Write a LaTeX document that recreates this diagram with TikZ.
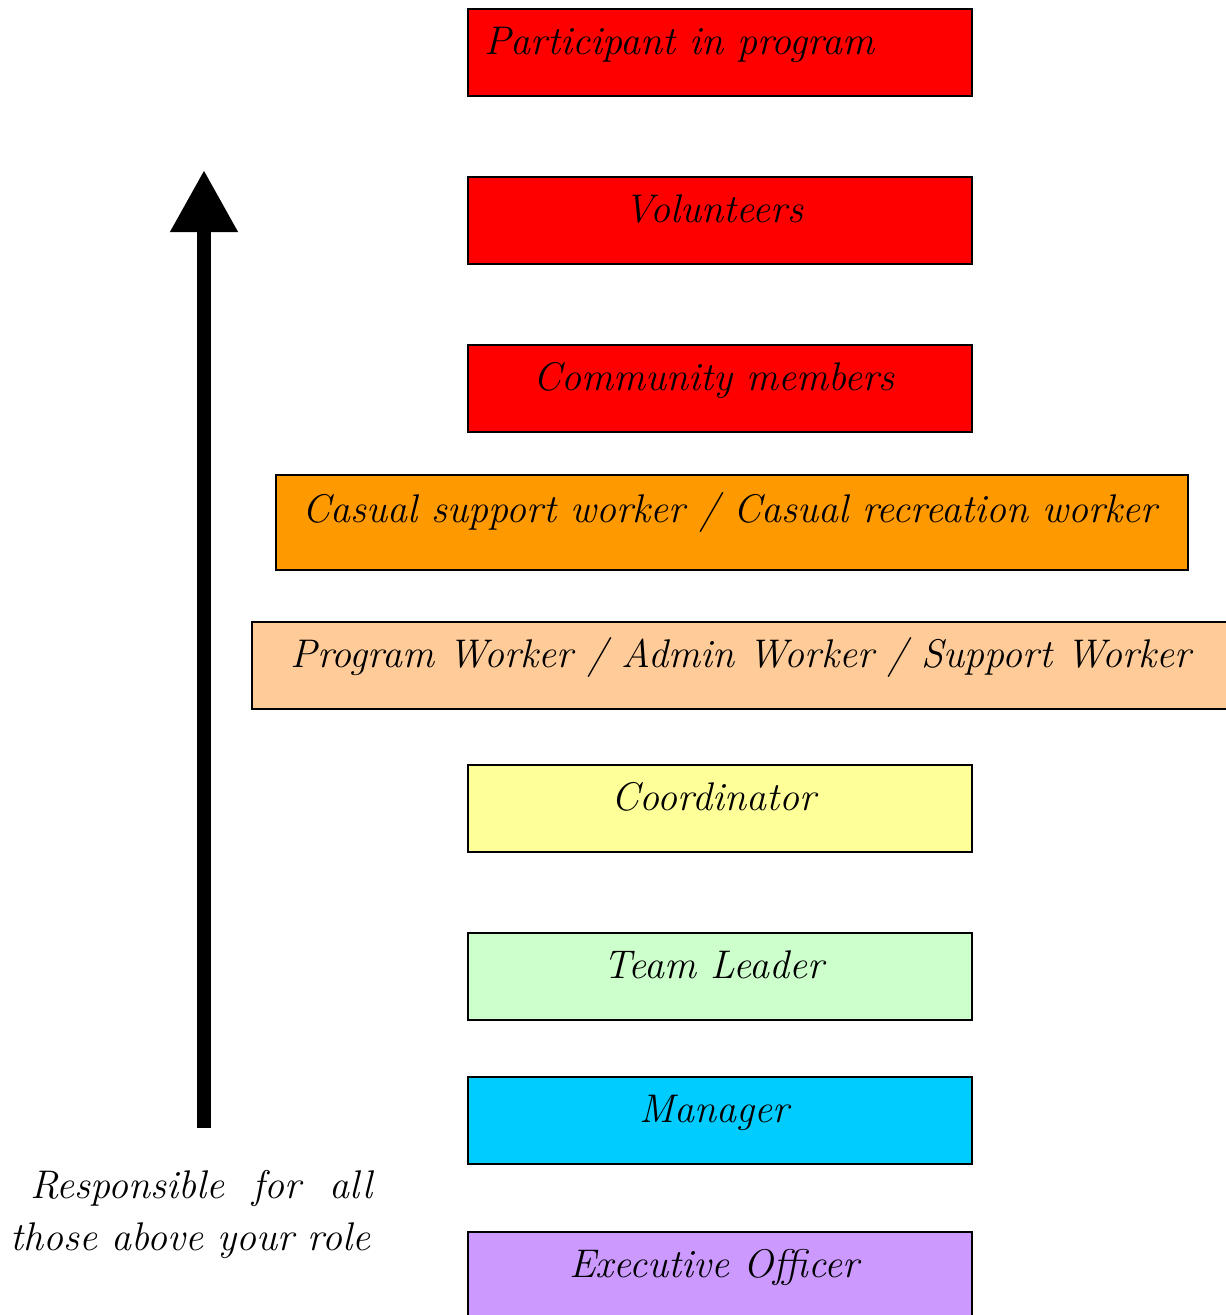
\documentclass[tikz,border=0pt]{standalone}
\usetikzlibrary{arrows.meta,calc}
\definecolor{cred}{HTML}{FF0000}
\definecolor{corange}{HTML}{FF9900}
\definecolor{cpeach}{HTML}{FFCC99}
\definecolor{cyellow}{HTML}{FFFF99}
\definecolor{cgreen}{HTML}{CCFFCC}
\definecolor{ccyan}{HTML}{00CCFF}
\definecolor{cpurple}{HTML}{CC99FF}
\tikzset{
  rolebox/.style={draw=black, line width=1.6pt, rectangle, inner sep=0pt},
  rolelbl/.style={font=\fontsize{40}{46}\selectfont\itshape, inner sep=0pt, anchor=base},
  sidelbl/.style={font=\fontsize{40}{46}\selectfont\itshape, inner sep=0pt, anchor=base west},
}
\begin{document}
\begin{tikzpicture}[x=1pt,y=-1pt]
\useasboundingbox (0,0) rectangle (1226,1315);
% boxes
\draw[rolebox, fill=cred] (468,9) rectangle (972,96) node[midway] (b1) {};
\draw[rolebox, fill=cred] (468,177) rectangle (972,264) node[midway] (b2) {};
\draw[rolebox, fill=cred] (468,345) rectangle (972,432) node[midway] (b3) {};
\draw[rolebox, fill=corange] (276,475) rectangle (1188,570) node[midway] (b4) {};
\draw[rolebox, fill=cpeach] (252,622) rectangle (1240,709) node[midway] (b5) {};
\draw[rolebox, fill=cyellow] (468,765) rectangle (972,852) node[midway] (b6) {};
\draw[rolebox, fill=cgreen] (468,933) rectangle (972,1020) node[midway] (b7) {};
\draw[rolebox, fill=ccyan] (468,1077) rectangle (972,1164) node[midway] (b8) {};
\draw[rolebox, fill=cpurple] (468,1232) rectangle (972,1330) node[midway] (b9) {};
% labels
\node[rolelbl, anchor=base west] (t1) at (484,54) {Participant in program};
\node[rolelbl] (t2) at (714,222) {Volunteers};
\node[rolelbl] (t3) at (714,390) {Community members};
\node[rolelbl] (t4) at (730,522) {Casual support worker / Casual recreation worker};
\node[rolelbl] (t5) at (741,667) {Program Worker / Admin Worker / Support Worker};
\node[rolelbl] (t6) at (714,810) {Coordinator};
\node[rolelbl] (t7) at (714,978) {Team Leader};
\node[rolelbl] (t8) at (714,1122) {Manager};
\node[rolelbl] (t9) at (714,1277) {Executive Officer};
% arrow
\coordinate (abot) at (204,1128);
\coordinate (atop) at (204,170);
\draw[line width=14pt, -{Triangle[width=64pt,length=62pt]}] (abot) -- (atop);
% side text
\node[sidelbl] (s1) at (30,1198) {Responsible \ for \ all};
\node[sidelbl] (s2) at (10,1250) {those above your role};
\end{tikzpicture}
\end{document}
